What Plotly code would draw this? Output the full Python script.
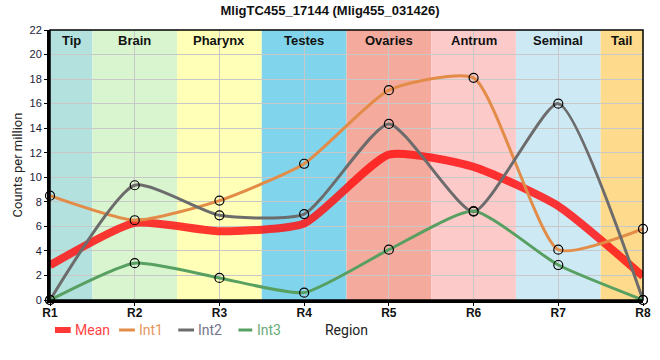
import plotly.graph_objects as go

regions = ["R1", "R2", "R3", "R4", "R5", "R6", "R7", "R8"]
xpos = [1, 2, 3, 4, 5, 6, 7, 8]
int1 = [8.5, 6.5, 8.1, 11.1, 17.1, 18.1, 4.1, 5.8]
int2 = [0.0, 9.35, 6.9, 7.0, 14.35, 7.2, 16.0, 0.0]
int3 = [0.0, 3.0, 1.8, 0.6, 4.1, 7.25, 2.85, 0.0]
mean = [(a + b + c) / 3 for a, b, c in zip(int1, int2, int3)]

band_names = ["Tip", "Brain", "Pharynx", "Testes", "Ovaries", "Antrum", "Seminal", "Tail"]
band_edges = [1, 1.5, 2.5, 3.5, 4.5, 5.5, 6.5, 7.5, 8]
band_colors = ["#b3e2de", "#d9f5d0", "#ffffb7", "#80d5ec", "#f4aa9c", "#fdcaca", "#cdeaf4", "#fdda8c"]

SMOOTH = 0.55
W, H = 660, 360
ML, MR, MT, MB = 50, 9, 30, 60
PW, PH = W - ML - MR, H - MT - MB

def px_x(p):
    return (p - ML) / PW

def px_y(p):
    return 1 - (p - MT) / PH

fig = go.Figure()

shapes = []
annotations = []
for i, name in enumerate(band_names):
    x0, x1 = band_edges[i], band_edges[i + 1]
    shapes.append(dict(type="rect", xref="x", yref="paper", x0=x0, x1=x1, y0=0, y1=1,
                       fillcolor=band_colors[i], line=dict(width=0), layer="below"))
    annotations.append(dict(x=(x0 + x1) / 2, y=1, xref="x", yref="paper", yanchor="top",
                            yshift=-1, text="<b>%s</b>" % name, showarrow=False,
                            font=dict(family="Arial, Liberation Sans", size=13, color="#111")))

mean_col = "rgba(255,20,20,0.85)"
fig.add_trace(go.Scatter(x=xpos, y=mean, name="Mean", mode="lines", showlegend=False,
                         line=dict(color=mean_col, width=8, shape="spline", smoothing=SMOOTH),
                         cliponaxis=False))
series = [("Int1", int1, "rgb(226,140,72)", "#e6975c"),
          ("Int2", int2, "rgb(108,108,108)", "#75758a"),
          ("Int3", int3, "rgb(88,160,98)", "#6aaa78")]
for name, vals, col, tcol in series:
    fig.add_trace(go.Scatter(x=xpos, y=vals, name=name, mode="lines+markers", showlegend=False,
                             line=dict(color=col, width=3, shape="spline", smoothing=SMOOTH),
                             marker=dict(symbol="circle-open", size=9,
                                         color="black", line=dict(width=1.2, color="black")),
                             cliponaxis=False))

# manual legend (pixel layout of the reference)
leg_y = 330
legend_items = [("Mean", mean_col, "#ff4545", 55, 71, 6, 74),
                ("Int1", series[0][2], series[0][3], 120, 136, 3, 139),
                ("Int2", series[1][2], series[1][3], 180, 196, 3, 199),
                ("Int3", series[2][2], series[2][3], 241, 255, 3, 259)]
for name, lcol, tcol, lx0, lx1, lw, tx in legend_items:
    shapes.append(dict(type="line", xref="paper", yref="paper",
                       x0=px_x(lx0), x1=px_x(lx1), y0=px_y(leg_y), y1=px_y(leg_y),
                       line=dict(color=lcol, width=lw)))
    annotations.append(dict(x=px_x(tx), y=px_y(leg_y), xref="paper", yref="paper",
                            xanchor="left", yanchor="middle", text=name, showarrow=False,
                            borderpad=0,
                            font=dict(family="Roboto, Arial", size=14, color=tcol)))

shapes.append(dict(type="rect", xref="paper", yref="paper", x0=0, x1=1, y0=0, y1=1,
                   line=dict(color="black", width=1.5), layer="above"))

fig.update_layout(
    width=W, height=H,
    margin=dict(l=ML, r=MR, t=MT, b=MB),
    paper_bgcolor="white", plot_bgcolor="white",
    title=dict(text="<b>MligTC455_17144 (Mlig455_031426)</b>", x=0.5, xanchor="center",
               y=0.972, yanchor="middle",
               font=dict(family="Arial, Liberation Sans", size=13, color="#111")),
    shapes=shapes,
    annotations=annotations,
    showlegend=False,
    font=dict(family="Arial, Liberation Sans", size=11, color="#111"),
)
fig.update_xaxes(range=[1, 8], tickvals=xpos, ticktext=["<b>%s</b>" % r for r in regions],
                 showgrid=True, gridcolor="#c8c8c8", gridwidth=1, layer="above traces",
                 showline=True, linecolor="black", linewidth=3, ticks="outside",
                 ticklen=3, tickcolor="black", ticklabeloverflow="allow",
                 ticklabelstandoff=-3,
                 tickfont=dict(family="Arial, Liberation Sans", size=12, color="#111"),
                 title=dict(text="Region", standoff=6,
                            font=dict(family="Roboto, Arial", size=14, color="#222")),
                 zeroline=False)
fig.update_yaxes(range=[0, 22], dtick=2, showgrid=True, gridcolor="#c8c8c8", gridwidth=1,
                 showline=True, linecolor="black", linewidth=3, ticks="outside",
                 ticklen=3, tickcolor="black",
                 tickfont=dict(family="Arial, Liberation Sans", size=11, color="#1a1a3a"),
                 title=dict(text="Counts per million", standoff=4,
                            font=dict(family="Roboto, Arial", size=13, color="#222")),
                 zeroline=False)

fig.write_html("out.html", config={"displayModeBar": False},
               post_script="document.body.style.margin='0px';"
                           "document.documentElement.style.overflow='hidden';"
                           "document.body.style.overflow='hidden';")
